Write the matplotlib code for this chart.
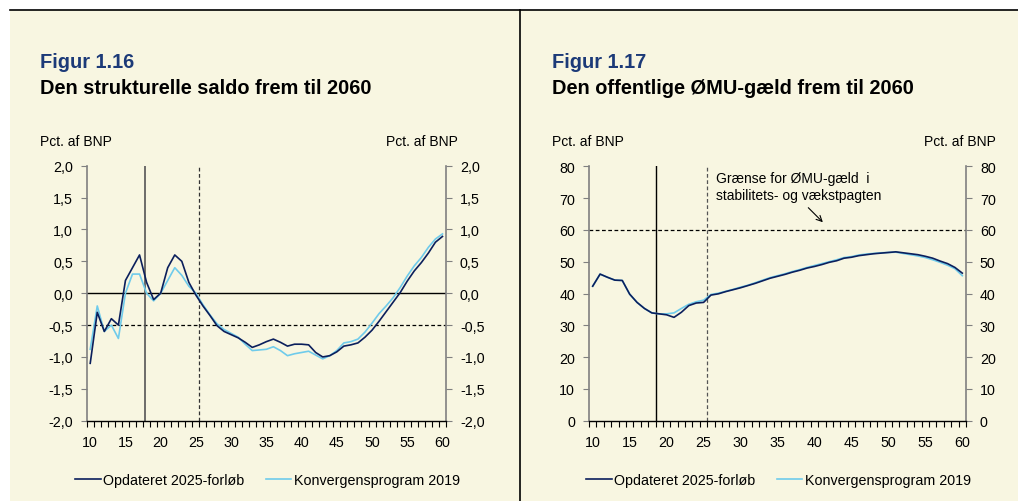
import matplotlib.pyplot as plt
from matplotlib.ticker import MultipleLocator, FixedLocator, FuncFormatter
from matplotlib.lines import Line2D

plt.rcParams['font.family'] = ['Liberation Sans', 'DejaVu Sans']

# years 2010-2060, shown as 10..60
years = list(range(10, 61))

# Figur 1.16: strukturel saldo, pct. af BNP
saldo_opd = [-1.10, -0.30, -0.60, -0.40, -0.50, 0.20, 0.40, 0.60, 0.17, -0.10,
             0.00, 0.40, 0.60, 0.50, 0.17, -0.03, -0.20, -0.35, -0.51, -0.60,
             -0.65, -0.70, -0.77, -0.85, -0.81, -0.76, -0.72, -0.77, -0.83, -0.80,
             -0.80, -0.81, -0.93, -1.00, -0.98, -0.92, -0.83, -0.81, -0.78, -0.69,
             -0.58, -0.44, -0.29, -0.14, 0.01, 0.19, 0.35, 0.48, 0.63, 0.80,
             0.89]
saldo_kp19 = [-0.88, -0.20, -0.60, -0.50, -0.71, 0.00, 0.30, 0.30, 0.00, -0.12,
              0.00, 0.20, 0.40, 0.28, 0.11, 0.00, -0.18, -0.34, -0.48, -0.57,
              -0.63, -0.69, -0.80, -0.90, -0.89, -0.88, -0.84, -0.90, -0.98, -0.95,
              -0.93, -0.91, -0.97, -1.03, -0.98, -0.90, -0.78, -0.76, -0.72, -0.61,
              -0.47, -0.32, -0.20, -0.07, 0.09, 0.27, 0.43, 0.56, 0.72, 0.85,
              0.93]

# Figur 1.17: ØMU-gæld, pct. af BNP
gaeld_opd = [42.3, 46.1, 45.1, 44.2, 44.1, 39.8, 37.2, 35.3, 33.9, 33.6,
             33.3, 32.5, 34.1, 36.2, 37.0, 37.2, 39.5, 39.9, 40.6, 41.2,
             41.8, 42.5, 43.2, 44.0, 44.8, 45.4, 46.0, 46.7, 47.3, 48.0,
             48.5, 49.1, 49.8, 50.3, 51.1, 51.4, 51.9, 52.2, 52.5, 52.7,
             52.9, 53.1, 52.8, 52.5, 52.2, 51.7, 51.1, 50.2, 49.4, 48.2,
             46.4]
gaeld_kp19 = [42.3, 46.1, 45.1, 44.2, 44.1, 39.8, 37.2, 35.3, 33.9, 33.6,
              33.6, 33.9, 35.3, 36.6, 37.4, 37.9, 39.7, 40.1, 40.7, 41.3,
              42.0, 42.6, 43.4, 44.2, 45.0, 45.6, 46.2, 46.9, 47.5, 48.2,
              48.8, 49.4, 50.0, 50.6, 51.3, 51.6, 52.1, 52.4, 52.6, 52.8,
              52.9, 53.0, 52.6, 52.2, 51.8, 51.3, 50.6, 49.8, 48.9, 47.8,
              45.6]

labels = ['Opdateret 2025-forløb', 'Konvergensprogram 2019']
navy = '#0b1f5c'
lightblue = '#6fcbeb'
bg = '#f8f6e1'
title_blue = '#1c3a78'

fig = plt.figure(figsize=(10.18, 5.02), dpi=100)
fig.patch.set_facecolor('white')

# cream background panel, top rule and divider
fig.patches.append(plt.Rectangle((10 / 1018, 0), 1, 1 - 11 / 502, transform=fig.transFigure,
                                 facecolor=bg, edgecolor='none', zorder=-10))
fig.add_artist(Line2D([10 / 1018, 1], [1 - 11 / 502] * 2, color='black', lw=1.2))
fig.add_artist(Line2D([520 / 1018] * 2, [0, 1 - 11 / 502], color='black', lw=1.2))

ax1 = fig.add_axes([86.7 / 1018, 1 - 421.7 / 502, 359.3 / 1018, 255 / 502])
ax2 = fig.add_axes([589 / 1018, 1 - 421.7 / 502, 377 / 1018, 254.4 / 502])

fs = 10.3
grey = '#808080'


def style(ax, ylo, yhi, step, fmt):
    ax.set_facecolor(bg)
    ax.set_xlim(9.5, 60.5)
    ax.set_ylim(ylo, yhi)
    ax.spines['top'].set_visible(False)
    for s in ['left', 'right']:
        ax.spines[s].set_color(grey)
        ax.spines[s].set_linewidth(1.2)
    ax.spines['bottom'].set_color('black')
    ax.spines['bottom'].set_linewidth(1.0)
    ax.xaxis.set_major_locator(FixedLocator(list(range(10, 61, 5))))
    ax.xaxis.set_minor_locator(FixedLocator([y + 0.5 for y in range(9, 61)]))
    ax.tick_params(axis='x', which='major', length=0, labelsize=fs, pad=10)
    ax.tick_params(axis='x', which='minor', length=4, direction='out', width=0.8)
    ax.yaxis.set_major_locator(MultipleLocator(step))
    ax.yaxis.set_major_formatter(FuncFormatter(fmt))
    ax.tick_params(axis='y', which='major', length=4, direction='out', width=0.8,
                   labelsize=fs, left=True, right=True, labelleft=True, labelright=True,
                   color=grey, pad=6)


style(ax1, -2, 2, 0.5, lambda v, p: f'{v:.1f}'.replace('.', ','))
style(ax2, 0, 80, 10, lambda v, p: f'{v:.0f}')

# left chart
ax1.axhline(0, color='black', lw=1.0)
ax1.axhline(-0.5, color='black', lw=0.9, ls=(0, (3, 2)))
ax1.axvline(17.8, color='#555555', lw=1.2)
ax1.axvline(25.45, color='#333333', lw=0.9, ls=(0, (3, 2)))
ax1.plot(years, saldo_kp19, color=lightblue, lw=1.2, label=labels[1])
ax1.plot(years, saldo_opd, color=navy, lw=1.2, label=labels[0])

# right chart
ax2.axhline(60, color='black', lw=0.9, ls=(0, (3, 2)))
ax2.axvline(18.5, color='black', lw=1.0)
ax2.axvline(25.4, color='#555555', lw=0.9, ls=(0, (3, 2)))
ax2.plot(years, gaeld_kp19, color=lightblue, lw=1.2)
ax2.plot(years, gaeld_opd, color=navy, lw=1.2)
ax2.text(26.7, 78.6, 'Grænse for ØMU-gæld  i\nstabilitets- og vækstpagten', fontsize=10,
         va='top', ha='left', linespacing=1.25)
ax2.annotate('', xy=(41.4, 61.8), xytext=(38.9, 67.6),
             arrowprops=dict(arrowstyle='->', color='black', lw=0.8))

# titles
for x0, fig_no, title, xr in [(40, 'Figur 1.16', 'Den strukturelle saldo frem til 2060', 458),
                               (552, 'Figur 1.17', 'Den offentlige ØMU-gæld frem til 2060', 996)]:
    fig.text(x0 / 1018, 1 - 68 / 502, fig_no, color=title_blue, fontsize=14.4,
             fontweight='bold', va='baseline')
    fig.text(x0 / 1018, 1 - 94 / 502, title, color='black', fontsize=14.4,
             fontweight='bold', va='baseline')
    fig.text(x0 / 1018, 1 - 142 / 502, 'Pct. af BNP', fontsize=10, va='center')
    fig.text(xr / 1018, 1 - 142 / 502, 'Pct. af BNP', fontsize=10, va='center', ha='right')

# legends
handles = [Line2D([], [], color=navy, lw=1.2), Line2D([], [], color=lightblue, lw=1.2)]
for x0 in [75, 586]:
    fig.legend(handles, labels, loc='center left', bbox_to_anchor=(x0 / 1018, 1 - 481 / 502),
               ncol=2, frameon=False, fontsize=10.3, handlelength=1.8, handletextpad=0.15,
               columnspacing=1.5, borderpad=0, borderaxespad=0)

fig.savefig('out.png', dpi=100, facecolor=fig.get_facecolor())
